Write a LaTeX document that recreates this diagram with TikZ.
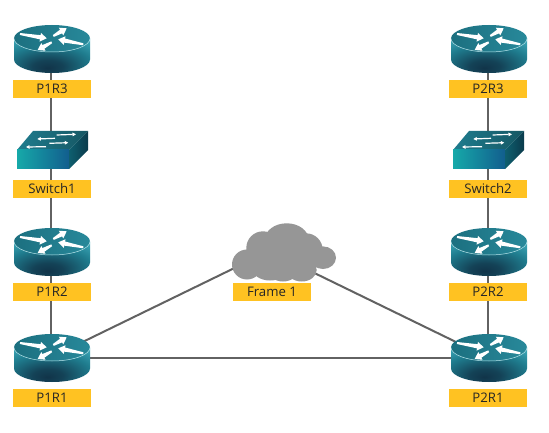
\documentclass[tikz,border=0pt]{standalone}
\usepackage{fontspec}
\setmainfont{Open Sans}
\usetikzlibrary{arrows.meta,calc}
\pgfdeclarelayer{background}
\pgfsetlayers{background,main}
\definecolor{lab}{HTML}{FFC222}
\definecolor{wire}{HTML}{626262}
\definecolor{cloudc}{HTML}{969696}
\definecolor{rdark}{HTML}{113449}
\definecolor{rmid}{HTML}{1F7C8E}
\definecolor{rlite}{HTML}{4ABBCB}
\definecolor{HLa}{HTML}{16A9A9}
\definecolor{HLb}{HTML}{125E8E}
\definecolor{SRa}{HTML}{0E5F6F}
\definecolor{SRb}{HTML}{0B3B4C}
\pgfdeclareradialshading{routerside}{\pgfpoint{-3bp}{-18bp}}{
 color(0bp)=(rdark); color(10bp)=(rdark!80!rmid); color(28bp)=(rmid); color(48bp)=(rlite); color(100bp)=(rlite)}
\tikzset{
 x=1pt,y=-1pt,
 tag/.style={fill=lab,minimum width=78pt,minimum height=18pt,inner sep=0pt,font=\fontsize{13.2}{15}\selectfont,text=black!85},
 hold/.style={minimum width=76pt,minimum height=48pt,inner sep=0pt},
 holdsw/.style={minimum width=72pt,minimum height=38pt,inner sep=0pt},
 wirel/.style={draw=wire,line width=2pt},
 sarrow/.style={draw=white,line width=1.2pt,-{Triangle[length=3.5pt,width=3.5pt]}},
}
% tapered router arrow: tail (#1), tip (#2)
\newcommand{\rarr}[2]{%
 \coordinate (AA) at (#1); \coordinate (BB) at (#2);
 \coordinate (HH) at ($(BB)!6.5pt!(AA)$);
 \fill[white] ($(AA)!1pt!90:(BB)$) -- ($(HH)!2.1pt!-90:(AA)$) -- ($(HH)!4.4pt!-90:(AA)$) -- (BB)
   -- ($(HH)!4.4pt!90:(AA)$) -- ($(HH)!2.1pt!90:(AA)$) -- ($(AA)!1pt!-90:(BB)$) -- cycle;}
\newcommand{\routerat}[3]{%
 \node[hold] (#1) at (#2-1.2,#3+10) {};
 \begin{scope}[shift={(#2,#3)}]
  \path[shading=routerside] (-38,0) -- (-38,21) arc[x radius=38,y radius=13.5,start angle=180,end angle=0] -- (38,0) -- cycle;
  \shade[left color=rmid!90!black,right color=rmid!80!rlite] (0,0) ellipse[x radius=38,y radius=13.5];
  \draw[white!60!rlite,line width=.5pt] (-38,0) arc[x radius=38,y radius=13.5,start angle=180,end angle=0];
  \rarr{-32,-4.5}{-5.3,-.2}
  \rarr{1.3,-2.5}{14.7,-10.2}
  \rarr{-.3,3.8}{-14.3,11.5}
  \rarr{31.3,5.8}{6.3,.8}
 \end{scope}}
\newcommand{\switchat}[3]{%
 \node[holdsw] (#1) at (#2+35.5,#3-0) {};
 \begin{scope}[shift={(#2,#3)}]
  \shade[left color=rmid,right color=rmid!70!black] (0,0) -- (16,-19) -- (71,-19) -- (52,0) -- cycle;
  \shade[left color=HLa,middle color=HLa,right color=HLb] (0,0) rectangle (52,19);
  \shade[left color=SRa,right color=SRb] (52,0) -- (71,-19) -- (71,0) -- (52,19) -- cycle;
  \draw[sarrow] (39.7,-15) -- (59,-15.7);
  \draw[sarrow] (38,-11.7) -- (20.3,-11);
  \draw[sarrow] (32.3,-6.7) -- (51.3,-7.3);
  \draw[sarrow] (29,-3.3) -- (9,-3);
 \end{scope}}
\begin{document}
\begin{tikzpicture}
\useasboundingbox (0,0) rectangle (549,433);
\begin{pgfonlayer}{background}
\fill[white] (0,0) rectangle (549,433);
\end{pgfonlayer}
% devices
\routerat{PoneRthree}{52}{38.5}
\switchat{SwOne}{17}{150}
\routerat{PoneRtwo}{52}{241.5}
\routerat{PoneRone}{52}{347.5}
\routerat{PtwoRthree}{489}{38.5}
\switchat{SwTwo}{453}{150}
\routerat{PtwoRtwo}{489}{241.5}
\routerat{PtwoRone}{489}{347.5}
% cloud
\node[minimum width=100pt,minimum height=60pt,inner sep=0pt] (cloud) at (283,253) {};
\coordinate (cloudL) at (255,258);
\coordinate (cloudR) at (300,266);
\fill[cloudc]
 (247,264.5) ellipse[x radius=15,y radius=15]
 (286.7,240) ellipse[x radius=22,y radius=16.7]
 (263,248) circle[radius=16.7]
 (323,257.7) ellipse[x radius=13,y radius=11.3]
 (306,250) circle[radius=16.7]
 (270,268) ellipse[x radius=18,y radius=12.5]
 (283,270) ellipse[x radius=15,y radius=11.5]
 (301.7,270) ellipse[x radius=15,y radius=11.5]
 (285,258) ellipse[x radius=30,y radius=20];
% labels
\node[tag] (lPoneRthree) at (52,89) {P1R3};
\node[tag] (lSwOne) at (52,189) {Switch1};
\node[tag] (lPoneRtwo) at (52,292) {P1R2};
\node[tag] (lPoneRone) at (52,398) {P1R1};
\node[tag] (lPtwoRthree) at (488,89) {P2R3};
\node[tag] (lSwTwo) at (488,189) {Switch2};
\node[tag] (lPtwoRtwo) at (488,292) {P2R2};
\node[tag] (lPtwoRone) at (488,398) {P2R1};
\node[tag] (lcloud) at (272,292) {Frame 1};
% connectors
\begin{pgfonlayer}{background}
\draw[wirel] (PoneRthree.center) -- (PoneRone.center);
\draw[wirel] (PtwoRthree.center) -- (PtwoRone.center);
\draw[wirel] (PoneRone.center) -- (PtwoRone.center);
\draw[wirel] (PoneRone.center) -- (cloudL);
\draw[wirel] (PtwoRone.center) -- (cloudR);
\end{pgfonlayer}
\end{tikzpicture}
\end{document}
